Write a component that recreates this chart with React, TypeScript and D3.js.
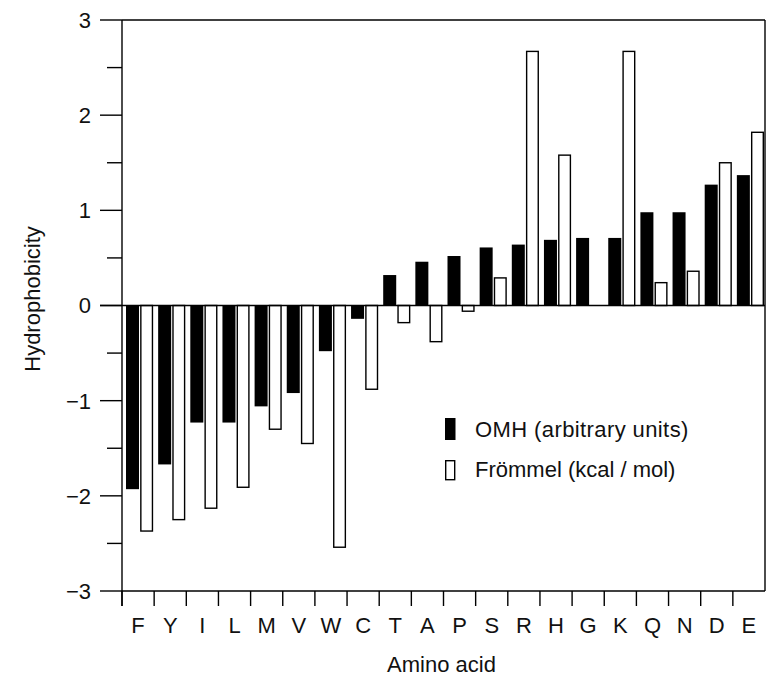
import React from "react";
import * as d3 from "d3";

const categories = ["F", "Y", "I", "L", "M", "V", "W", "C", "T", "A", "P", "S", "R", "H", "G", "K", "Q", "N", "D", "E"];
const omhValues = [-1.93, -1.67, -1.23, -1.23, -1.06, -0.92, -0.48, -0.14, 0.32, 0.46, 0.52, 0.61, 0.64, 0.69, 0.71, 0.71, 0.98, 0.98, 1.27, 1.37];
const frommelValues: (number | null)[] = [-2.37, -2.25, -2.13, -1.91, -1.3, -1.45, -2.54, -0.88, -0.18, -0.38, -0.06, 0.29, 2.67, 1.58, null, 2.67, 0.24, 0.36, 1.5, 1.82];
const seriesKeys = ["omh", "frommel"];
const seriesLabels = ["OMH (arbitrary units)", "Frömmel (kcal / mol)"];
const majorTicks = [-3, -2, -1, 0, 1, 2, 3];
const minorTicks = [-2.5, -1.5, -0.5, 0.5, 1.5, 2.5];

const W = 772;
const H = 678;
const left = 122;
const right = 765;
const top = 20;
const bottom = 591;
const FONT = "'Liberation Sans', Arial, Helvetica, sans-serif";
const FS = 22;
const SW = 1.4;

export default function App() {
  const x = d3.scaleBand<string>().domain(categories).range([left, right]).paddingInner(0).paddingOuter(0);
  const step = x.step();
  const sub = d3.scaleBand<string>().domain(seriesKeys).range([4, step - 1]).paddingInner(0.08);
  const y = d3.scaleLinear().domain([-3, 3]).range([bottom, top]);
  const y0 = y(0);
  const fmt = (v: number) => (v < 0 ? "\u2212" + Math.abs(v) : String(v));

  return (
    <div style={{ position: "absolute", left: 0, top: 0 }}>
      <svg width={W} height={H} style={{ display: "block", background: "#fff" }} fontFamily={FONT}>
        <rect x={0} y={0} width={W} height={H} fill="#fff" />
        {/* bars */}
        {categories.map((c, i) => {
          const x0 = x(c)!;
          const v1 = omhValues[i];
          const v2 = frommelValues[i];
          const bx = x0 + sub("omh")!;
          const wx = x0 + sub("frommel")!;
          const bw = sub.bandwidth();
          return (
            <g key={c}>
              <rect x={bx} y={Math.min(y(v1), y0)} width={bw} height={Math.abs(y(v1) - y0)} fill="#000" />
              {v2 !== null && (
                <rect
                  x={wx + SW / 2}
                  y={Math.min(y(v2), y0)}
                  width={bw - SW}
                  height={Math.abs(y(v2) - y0)}
                  fill="#fff"
                  stroke="#000"
                  strokeWidth={SW}
                />
              )}
            </g>
          );
        })}
        {/* zero line */}
        <line x1={left - 22} x2={right} y1={y0} y2={y0} stroke="#000" strokeWidth={SW} />
        {/* frame */}
        <line x1={left} x2={left} y1={top} y2={bottom + 15} stroke="#000" strokeWidth={SW} />
        <line x1={left} x2={right} y1={top} y2={top} stroke="#000" strokeWidth={SW} />
        <line x1={right} x2={right} y1={top} y2={bottom} stroke="#000" strokeWidth={SW} />
        <line x1={left} x2={right} y1={bottom} y2={bottom} stroke="#000" strokeWidth={SW} />
        {/* y ticks */}
        {majorTicks.map((t) => (
          <g key={"M" + t}>
            <line x1={left - 22} x2={left} y1={y(t)} y2={y(t)} stroke="#000" strokeWidth={SW} />
            <text x={91} y={y(t)} dy="0.36em" textAnchor="end" fontSize={FS} fill="#111">
              {fmt(t)}
            </text>
          </g>
        ))}
        {minorTicks.map((t) => (
          <line key={"m" + t} x1={left - 15} x2={left} y1={y(t)} y2={y(t)} stroke="#000" strokeWidth={SW} />
        ))}
        {/* x ticks and labels */}
        {categories.map((c) => {
          const x0 = x(c)!;
          return (
            <g key={"t" + c}>
              <line x1={x0} x2={x0} y1={bottom} y2={bottom + 15} stroke="#000" strokeWidth={SW} />
              <text x={x0 + step / 2} y={633} textAnchor="middle" fontSize={FS} fill="#111">
                {c}
              </text>
            </g>
          );
        })}
        {/* axis titles */}
        <text x={(left + right) / 2 - 2} y={672} textAnchor="middle" fontSize={FS} fill="#111">
          Amino acid
        </text>
        <text transform={`translate(40, 299) rotate(-90)`} textAnchor="middle" fontSize={FS} fill="#111">
          Hydrophobicity
        </text>
        {/* legend */}
        <rect x={445} y={418} width={10.5} height={22} fill="#000" />
        <rect x={445.7} y={460.7} width={9} height={19} fill="#fff" stroke="#000" strokeWidth={SW} />
        <text x={475} y={437} fontSize={FS} fill="#111" letterSpacing={0.4}>
          {seriesLabels[0]}
        </text>
        <text x={475} y={477} fontSize={FS} fill="#111">
          {seriesLabels[1]}
        </text>
      </svg>
    </div>
  );
}
